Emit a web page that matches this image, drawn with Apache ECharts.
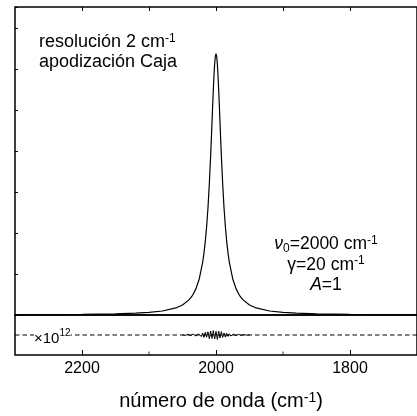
<!DOCTYPE html>
<html>
<head>
<meta charset="utf-8">
<script src="https://cdn.jsdelivr.net/npm/echarts@6/dist/echarts.min.js"></script>
<style>
  html, body { margin: 0; padding: 0; background: #fff; }
  #chart { width: 417px; height: 416px; }
</style>
</head>
<body>
<div id="chart"></div>
<script>
// Lorentzian band centred at 2000 cm-1 (gamma = 20 cm-1, A = 1)
const wavenumber = [
  2300, 2250, 2200, 2150, 2120, 2100, 2080, 2060, 2050, 2040, 2035, 2030, 2025,
  2020, 2018, 2016, 2014, 2012, 2010, 2008, 2007, 2006, 2005, 2004, 2003, 2002, 2001,
  2000,
  1999, 1998, 1997, 1996, 1995, 1994, 1993, 1992, 1990, 1988, 1986, 1984, 1982, 1980,
  1975, 1970, 1965, 1960, 1950, 1940, 1920, 1900, 1880, 1850, 1800, 1750, 1700
];
const intensity = [
  0.000035, 0.000051, 0.000080, 0.000141, 0.00022, 0.00032, 0.00049, 0.00086, 0.00123, 0.00188, 0.00241, 0.00319, 0.00440,
  0.00638, 0.00752, 0.00896, 0.01078, 0.01307, 0.01595, 0.01945, 0.02141, 0.02346, 0.02552, 0.02750, 0.02927, 0.03067, 0.03158,
  0.03190,
  0.03158, 0.03067, 0.02927, 0.02750, 0.02552, 0.02346, 0.02141, 0.01945, 0.01595, 0.01307, 0.01078, 0.00896, 0.00752, 0.00638,
  0.00440, 0.00319, 0.00241, 0.00188, 0.00123, 0.00086, 0.00049, 0.00032, 0.00022, 0.000141, 0.000080, 0.000051, 0.000035
];

// Residual (x 10^12) around the band centre
const residualWavenumber = [
  2050, 2046, 2042, 2038, 2034, 2030, 2026, 2022, 2020, 2018, 2016, 2014, 2012, 2010, 2008,
  2006, 2004, 2002, 2000, 1998, 1996, 1994, 1992, 1990, 1988, 1986, 1984, 1982, 1980,
  1978, 1974, 1970, 1966, 1962, 1958, 1954, 1950
];
const residual = [
  0.01, -0.02, 0.03, -0.03, 0.04, -0.05, 0.06, -0.08, 0.10, -0.12, 0.14, -0.11, 0.16, -0.18, 0.20,
  -0.17, 0.22, -0.20, 0.18, -0.22, 0.19, -0.15, 0.17, -0.12, 0.10, -0.11, 0.08, -0.07, 0.06,
  -0.05, 0.04, -0.03, 0.03, -0.02, 0.02, -0.01, 0.01
];

const majorTicks = [2200, 2000, 1800];
const minorTicks = [2100, 1900];
const topTicks = [2200, 2100, 2000, 1900, 1800];

const FONT = 'Liberation Sans, Arial, sans-serif';
const chart = echarts.init(document.getElementById('chart'), null, { renderer: 'canvas' });

const pair = (xs, ys) => xs.map((x, i) => [x, ys[i]]);
const tickStyle = { color: '#000', width: 1 };

// text block with rich-text superscripts / subscripts
function label(x, y, text, align, size, lineHeight, bg) {
  const lh = lineHeight || 20;
  const small = Math.round(size * 0.68);
  return {
    type: 'text', x: x, y: y, z: 100,
    style: {
      text: text, align: align, verticalAlign: 'middle',
      fontFamily: FONT, fontSize: size, lineHeight: lh, fill: '#000',
      backgroundColor: bg,
      rich: {
        it: { fontSize: size, lineHeight: lh, fontStyle: 'italic', fontFamily: FONT, color: '#000' },
        s: { fontSize: small, lineHeight: 4, verticalAlign: 'top', fontFamily: FONT, color: '#000' },
        b: { fontSize: small, lineHeight: 4, verticalAlign: 'bottom', fontFamily: FONT, color: '#000' }
      }
    }
  };
}

function xAxisBase(grid, position) {
  return {
    gridIndex: grid, type: 'value', min: 1700, max: 2300, inverse: true, position: position,
    axisLine: { show: false, onZero: false }, axisLabel: { show: false }, splitLine: { show: false }
  };
}

chart.setOption({
  animation: false,
  backgroundColor: '#fff',
  grid: [
    { left: 15, right: -4, top: 7, height: 308, show: true, borderColor: '#000', borderWidth: 1.5, backgroundColor: 'transparent' },
    { left: 15, right: -4, top: 315, height: 40, show: true, borderColor: '#000', borderWidth: 1.5, backgroundColor: 'transparent' }
  ],
  xAxis: [
    Object.assign(xAxisBase(0, 'bottom'), { axisTick: { show: false } }),
    Object.assign(xAxisBase(0, 'top'), {
      axisTick: { show: true, inside: true, length: 4, customValues: topTicks, lineStyle: tickStyle } }),
    Object.assign(xAxisBase(1, 'bottom'), {
      axisTick: { show: true, inside: true, length: 5, customValues: majorTicks, lineStyle: tickStyle },
      axisLabel: { show: true, customValues: majorTicks, margin: 6, fontFamily: FONT, fontSize: 16, color: '#000',
                   formatter: v => String(v) } }),
    Object.assign(xAxisBase(1, 'top'), { axisTick: { show: false } })
  ],
  yAxis: [
    { gridIndex: 0, type: 'value', min: 0, max: 0.0376, interval: 0.005,
      axisLine: { show: false, onZero: false },
      axisTick: { show: true, inside: true, length: 3, lineStyle: tickStyle },
      axisLabel: { show: false }, splitLine: { show: false } },
    { gridIndex: 1, type: 'value', min: -1, max: 1,
      axisLine: { show: false, onZero: false }, axisTick: { show: false }, axisLabel: { show: false }, splitLine: { show: false } }
  ],
  series: [
    { type: 'line', xAxisIndex: 0, yAxisIndex: 0, data: pair(wavenumber, intensity),
      showSymbol: false, lineStyle: { color: '#000', width: 1.2 } },
    { type: 'line', xAxisIndex: 2, yAxisIndex: 1, data: [[2300, 0], [1700, 0]],
      showSymbol: false, lineStyle: { color: '#000', width: 1, type: [4.5, 3] } },
    { type: 'line', xAxisIndex: 2, yAxisIndex: 1, data: pair(residualWavenumber, residual),
      showSymbol: false, lineStyle: { color: '#000', width: 1 } },
    // short inward ticks at the intermediate hundreds
    { type: 'scatter', xAxisIndex: 2, yAxisIndex: 1, data: minorTicks.map(v => [v, -1]),
      symbol: 'rect', symbolSize: [1, 3.5], symbolOffset: [0, -1.75], itemStyle: { color: '#000' }, silent: true }
  ],
  graphic: [
    label(39, 42.3, 'resolución 2 cm{s|-1}', 'left', 18),
    label(39, 61.7, 'apodización Caja', 'left', 18),
    label(326, 244.2, '{it|ν}{b|0}=2000 cm{s|-1}', 'center', 17.5),
    label(326, 264.9, 'γ=20 cm{s|-1}', 'center', 17.5),
    label(326, 285.2, '{it|A}=1', 'center', 17.5),
    label(34, 338.5, '×10{s|12}', 'left', 15, 20, '#fff'),
    label(221, 401.6, 'número de onda (cm{s|-1})', 'center', 20)
  ]
});
</script>
</body>
</html>
